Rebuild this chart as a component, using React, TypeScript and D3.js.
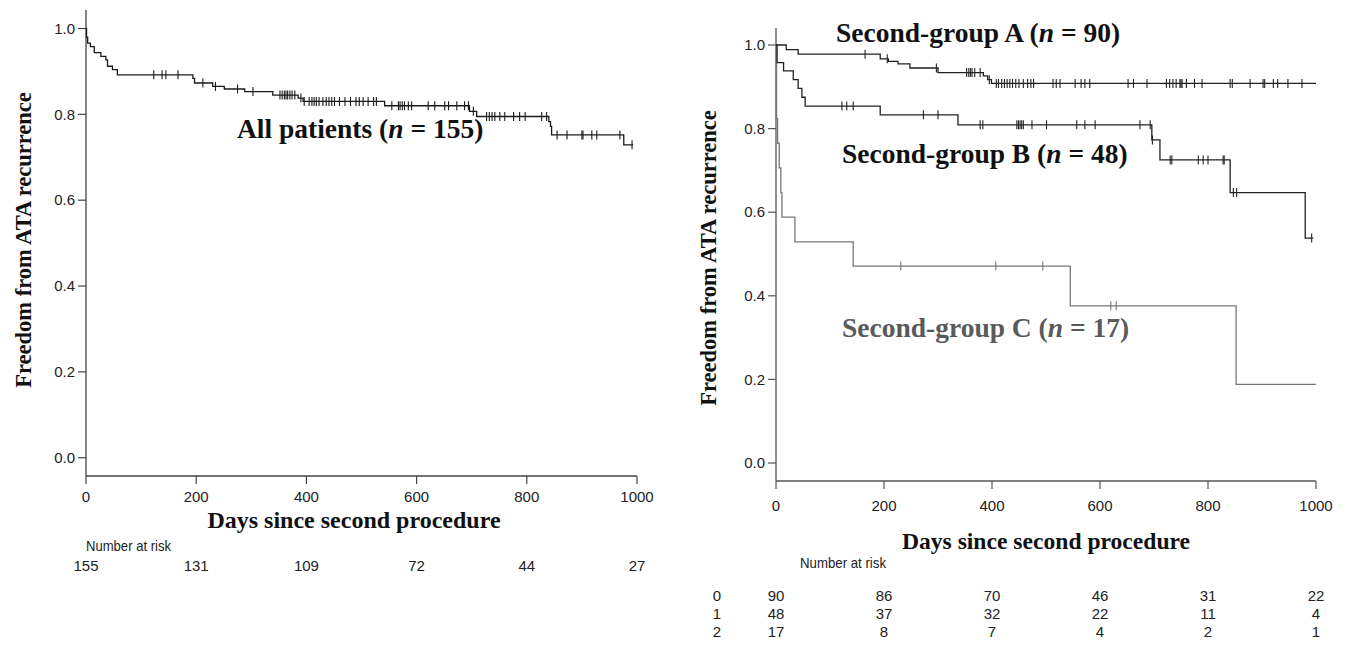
import React from "react";
import * as d3 from "d3";

// ---------- data ----------
const xTicks = [0, 200, 400, 600, 800, 1000];
const yTicks = [0, 0.2, 0.4, 0.6, 0.8, 1.0];

// All patients
const allDays = [0, 1, 3, 8, 15, 27, 36, 39, 48, 57, 194, 197, 230, 251, 288, 339, 385, 394, 542, 696, 709, 840, 843, 845, 976];
const allSurv = [1.0, 0.98, 0.966, 0.958, 0.944, 0.935, 0.927, 0.912, 0.904, 0.892, 0.884, 0.873, 0.865, 0.859, 0.853, 0.845, 0.838, 0.83, 0.82, 0.807, 0.795, 0.783, 0.772, 0.752, 0.729];
const allEnd = 993;
const allCensor = [123, 138, 145, 167, 212, 235, 275, 303, 352, 356, 360, 363, 366, 370, 374, 379, 390, 396, 405, 410, 414, 418, 423, 430, 436, 441, 446, 451, 460, 470, 480, 490, 496, 503, 512, 522, 527, 555, 567, 570, 574, 578, 585, 591, 621, 633, 651, 658, 673, 687, 694, 703, 727, 732, 737, 742, 751, 760, 776, 787, 797, 827, 836, 855, 873, 900, 902, 918, 927, 969, 991];
const allAtRisk = [155, 131, 109, 72, 44, 27];

// Second-group A
const aDays = [0, 19, 41, 193, 208, 226, 248, 300, 384, 392, 399];
const aSurv = [1.0, 0.989, 0.978, 0.967, 0.961, 0.955, 0.945, 0.934, 0.926, 0.917, 0.908];
const aEnd = 1000;
const aCensor = [165, 206, 297, 353, 357, 360, 363, 368, 378, 395, 408, 412, 418, 423, 428, 433, 438, 444, 450, 458, 466, 472, 477, 513, 519, 526, 554, 565, 572, 581, 652, 662, 687, 723, 729, 735, 741, 748, 750, 752, 760, 775, 789, 841, 845, 878, 902, 905, 921, 929, 948, 974];
const aAtRisk = [90, 86, 70, 46, 31, 22];

// Second-group B
const bDays = [0, 2, 14, 32, 41, 48, 54, 193, 337, 696, 711, 841, 980];
const bSurv = [1.0, 0.958, 0.938, 0.917, 0.896, 0.875, 0.854, 0.833, 0.809, 0.773, 0.725, 0.647, 0.538];
const bEnd = 995;
const bCensor = [122, 131, 143, 273, 300, 378, 383, 446, 449, 452, 455, 458, 474, 501, 557, 572, 591, 674, 693, 697, 730, 733, 782, 791, 800, 828, 830, 847, 853, 992];
const bAtRisk = [48, 37, 32, 22, 11, 4];

// Second-group C
const cDays = [0, 1, 3, 6, 9, 11, 35, 143, 545, 852];
const cSurv = [1.0, 0.824, 0.765, 0.706, 0.647, 0.588, 0.529, 0.471, 0.376, 0.188];
const cEnd = 1000;
const cCensor = [231, 407, 494, 620, 630];
const cAtRisk = [17, 8, 7, 4, 2, 1];

const groupRowLabels = ["0", "1", "2"];

// ---------- helpers ----------
const SANS = "'Liberation Sans', Arial, sans-serif";
const SERIF = "'Liberation Serif', 'Times New Roman', serif";

function survAt(days: number[], surv: number[], t: number) {
  let s = surv[0];
  for (let i = 0; i < days.length; i++) if (days[i] <= t) s = surv[i];
  return s;
}

function Curve({ days, surv, end, censor, x, y, color }: any) {
  const pts: [number, number][] = days.map((d: number, i: number) => [d, surv[i]]);
  pts.push([end, surv[surv.length - 1]]);
  const line = d3
    .line<[number, number]>()
    .x((p) => x(p[0]))
    .y((p) => y(p[1]))
    .curve(d3.curveStepAfter);
  return (
    <g>
      <path d={line(pts) || ""} fill="none" stroke={color} strokeWidth={1.3} />
      {censor.map((t: number, i: number) => {
        const cx = x(t);
        const cy = y(survAt(days, surv, t));
        return <line key={i} x1={cx} x2={cx} y1={cy - 4.5} y2={cy + 4.5} stroke={color} strokeWidth={1.1} />;
      })}
    </g>
  );
}

function Axes({ x, y, yTop, xAxisY, yLabelX, xLabelY, axisColor }: any) {
  const x0 = x(0);
  return (
    <g fontFamily={SANS} fontSize={15} fill="#222">
      <line x1={x0} x2={x0} y1={yTop} y2={xAxisY} stroke={axisColor} strokeWidth={1.3} />
      {yTicks.map((t) => (
        <g key={t}>
          <line x1={x0 - 8} x2={x0} y1={y(t)} y2={y(t)} stroke={axisColor} strokeWidth={1.2} />
          <text x={yLabelX} y={y(t)} dy="0.35em" textAnchor="end">
            {t.toFixed(1)}
          </text>
        </g>
      ))}
      <line x1={x(0)} x2={x(1000)} y1={xAxisY} y2={xAxisY} stroke={axisColor} strokeWidth={1.3} />
      {xTicks.map((t) => (
        <g key={t}>
          <line x1={x(t)} x2={x(t)} y1={xAxisY} y2={xAxisY + 8} stroke={axisColor} strokeWidth={1.2} />
          <text x={x(t)} y={xLabelY} dy="0.35em" textAnchor="middle">
            {t}
          </text>
        </g>
      ))}
    </g>
  );
}

function GroupLabel({ x, y, name, n, color }: any) {
  return (
    <text x={x} y={y} dy="0.35em" fontFamily={SERIF} fontWeight="bold" fontSize={27.5} fill={color}>
      {name} (<tspan fontStyle="italic">n</tspan> = {n})
    </text>
  );
}

export default function App() {
  const xL = d3.scaleLinear().domain([0, 1000]).range([86, 637]);
  const yL = d3.scaleLinear().domain([0, 1]).range([457.7, 28.5]);
  const xR = d3.scaleLinear().domain([0, 1000]).range([776, 1316]);
  const yR = d3.scaleLinear().domain([0, 1]).range([463, 45]);

  return (
    <svg width={1349} height={646} style={{ position: "absolute", left: 0, top: 0, background: "#fff" }}>
      {/* ---------- Left panel ---------- */}
      <Axes x={xL} y={yL} yTop={10} xAxisY={476} yLabelX={75} xLabelY={497} axisColor="#444" />
      <Curve days={allDays} surv={allSurv} end={allEnd} censor={allCensor} x={xL} y={yL} color="#1a1a1a" />
      <GroupLabel x={237} y={128} name="All patients" n={155} color="#111" />
      <text
        transform={`translate(23,${240}) rotate(-90)`}
        textAnchor="middle"
        dy="0.35em"
        fontFamily={SERIF}
        fontWeight="bold"
        fontSize={22.5}
        fill="#111"
      >
        Freedom from ATA recurrence
      </text>
      <text x={354} y={520} dy="0.35em" textAnchor="middle" fontFamily={SERIF} fontWeight="bold" fontSize={24} fill="#111">
        Days since second procedure
      </text>
      <text x={86} y={546} dy="0.35em" fontFamily={SANS} fontSize={14.5} fill="#222" textLength={85} lengthAdjust="spacingAndGlyphs">
        Number at risk
      </text>
      {allAtRisk.map((v, i) => (
        <text key={i} x={xL(xTicks[i])} y={566} dy="0.35em" textAnchor="middle" fontFamily={SANS} fontSize={15} fill="#222">
          {v}
        </text>
      ))}

      {/* ---------- Right panel ---------- */}
      <Axes x={xR} y={yR} yTop={28} xAxisY={481} yLabelX={765} xLabelY={506} axisColor="#555" />
      <Curve days={cDays} surv={cSurv} end={cEnd} censor={cCensor} x={xR} y={yR} color="#777" />
      <Curve days={bDays} surv={bSurv} end={bEnd} censor={bCensor} x={xR} y={yR} color="#222" />
      <Curve days={aDays} surv={aSurv} end={aEnd} censor={aCensor} x={xR} y={yR} color="#222" />
      <GroupLabel x={836} y={32} name="Second-group A" n={90} color="#111" />
      <GroupLabel x={842} y={153} name="Second-group B" n={48} color="#111" />
      <GroupLabel x={842} y={327} name="Second-group C" n={17} color="#5a5a5a" />
      <text
        transform={`translate(708,${258}) rotate(-90)`}
        textAnchor="middle"
        dy="0.35em"
        fontFamily={SERIF}
        fontWeight="bold"
        fontSize={22.5}
        fill="#111"
      >
        Freedom from ATA recurrence
      </text>
      <text x={1046} y={541} dy="0.35em" textAnchor="middle" fontFamily={SERIF} fontWeight="bold" fontSize={23.6} fill="#111">
        Days since second procedure
      </text>
      <text x={800} y={563} dy="0.35em" fontFamily={SANS} fontSize={14.5} fill="#222" textLength={86} lengthAdjust="spacingAndGlyphs">
        Number at risk
      </text>
      {[aAtRisk, bAtRisk, cAtRisk].map((row, r) => (
        <g key={r} fontFamily={SANS} fontSize={15} fill="#222">
          <text x={717} y={596 + r * 18} dy="0.35em" textAnchor="middle">
            {groupRowLabels[r]}
          </text>
          {row.map((v, i) => (
            <text key={i} x={xR(xTicks[i])} y={596 + r * 18} dy="0.35em" textAnchor="middle">
              {v}
            </text>
          ))}
        </g>
      ))}
    </svg>
  );
}
